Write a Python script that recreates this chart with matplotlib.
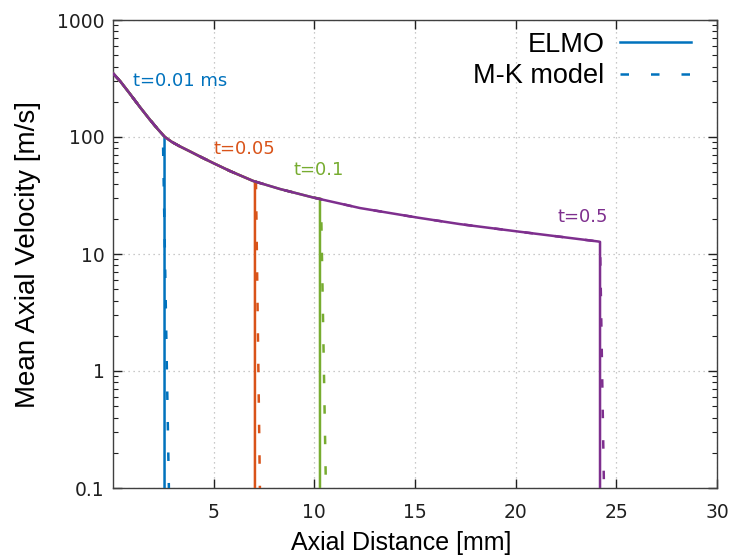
import matplotlib
matplotlib.use("Agg")
import matplotlib.pyplot as plt
from matplotlib.lines import Line2D
from matplotlib.ticker import LogLocator, FixedLocator, NullFormatter

# ---- data ----
env_x = [0.0, 0.35, 0.85, 1.34, 1.84, 2.24, 2.58, 2.93, 3.33, 3.83, 4.32, 4.97,
         5.81, 6.96, 8.30, 9.94, 12.27, 15.10, 17.24, 20.07, 24.09]
env_v = [350, 301, 233, 180, 140, 116, 100, 90.6, 83, 75.2, 68.1, 60,
         51.2, 42.1, 35.9, 30.4, 24.7, 20.5, 18.0, 15.6, 12.8]

times = ["0.01", "0.05", "0.1", "0.5"]
labels = ["t=0.01 ms", "t=0.05", "t=0.1", "t=0.5"]
colors = ["#0072bd", "#d95319", "#77ac30", "#7e2f8e"]
elmo_front = [2.56, 7.05, 10.28, 24.19]
front_v = [100, 41.6, 29.6, 12.7]
mk_front_top = [2.48, 7.10, 10.33, 24.19]
mk_front_bot = [2.78, 7.30, 10.58, 24.39]
v_bottom = 0.1

label_x = [0.99, 4.97, 8.99, 22.06]
label_v = [301, 79, 52, 20.7]

xticks = [5, 10, 15, 20, 25, 30]
yticks = [0.1, 1, 10, 100, 1000]
yticklabels = ["0.1", "1", "10", "100", "1000"]

# ---- figure ----
fig = plt.figure(figsize=(7.34, 5.56), dpi=100)
ax = fig.add_axes([113/734, 1-488/556, (717-113)/734, (488-20)/556])

lw = 1.8
dash = (3.4, 8.8)
for i in range(len(times)):
    xs = [x for x in env_x if x < elmo_front[i]]
    vs = [v for x, v in zip(env_x, env_v) if x < elmo_front[i]]
    ex = xs + [elmo_front[i], elmo_front[i]]
    ev = vs + [front_v[i], v_bottom * 0.9]
    mx = xs + [mk_front_top[i], mk_front_bot[i]]
    mv = vs + [front_v[i], v_bottom * 0.9]
    ax.plot(ex, ev, color=colors[i], lw=lw, solid_joinstyle="round", zorder=3 + i)
    ax.plot(mx, mv, color=colors[i], lw=lw, dashes=dash, zorder=3 + i)
    ax.text(label_x[i], label_v[i], labels[i], color=colors[i], fontsize=13,
            family="DejaVu Sans", ha="left", va="center", zorder=10)

ax.set_yscale("log")
ax.set_xlim(0.0, 30)
ax.set_ylim(0.1, 1000)
ax.xaxis.set_major_locator(FixedLocator(xticks))
ax.set_xticklabels([str(t) for t in xticks])
ax.yaxis.set_major_locator(FixedLocator(yticks))
ax.set_yticklabels(yticklabels)
ax.yaxis.set_minor_locator(LogLocator(base=10, subs=range(2, 10), numticks=20))
ax.yaxis.set_minor_formatter(NullFormatter())
ax.xaxis.set_minor_locator(FixedLocator([]))

ax.tick_params(which="both", direction="in", top=True, right=True, color="#202020")
ax.tick_params(which="major", length=6.5, width=1)
ax.tick_params(which="minor", length=3.5, width=0.8)
ax.tick_params(axis="x", which="major", pad=11, labelsize=13.5, labelcolor="#202020")
ax.tick_params(axis="y", which="major", pad=6, labelsize=13.5, labelcolor="#202020")
for lab in ax.get_xticklabels() + ax.get_yticklabels():
    lab.set_family("DejaVu Sans")

ax.grid(True, which="major", color="#b8b8b8", lw=0.9, linestyle=(0, (1, 3)))
for s in ax.spines.values():
    s.set_color("#404040")
    s.set_linewidth(1.0)

ax.set_xlabel("Axial Distance [mm]", fontsize=18, family="Liberation Sans")
ax.set_ylabel("Mean Axial Velocity [m/s]", fontsize=20, family="Liberation Sans")
ax.xaxis.set_label_coords((401-113)/604, -(543-488)/468)
ax.yaxis.set_label_coords(-(113-28)/604, 0.5)
ax.xaxis.label.set_va("center")
ax.yaxis.label.set_va("center")

handles = [Line2D([], [], color=colors[0], lw=lw),
           Line2D([], [], color=colors[0], lw=lw, dashes=dash)]
leg = ax.legend(handles, ["ELMO", "M-K model"], loc="upper right", frameon=False,
                bbox_to_anchor=(1 - 4.5/604, 1 + 10/468),
                markerfirst=False, handlelength=2.6, handletextpad=0.6,
                borderpad=0.3, borderaxespad=0.5, labelspacing=0.2,
                prop={"family": "Liberation Sans", "size": 19.5})

fig.savefig("out.png", dpi=100)
